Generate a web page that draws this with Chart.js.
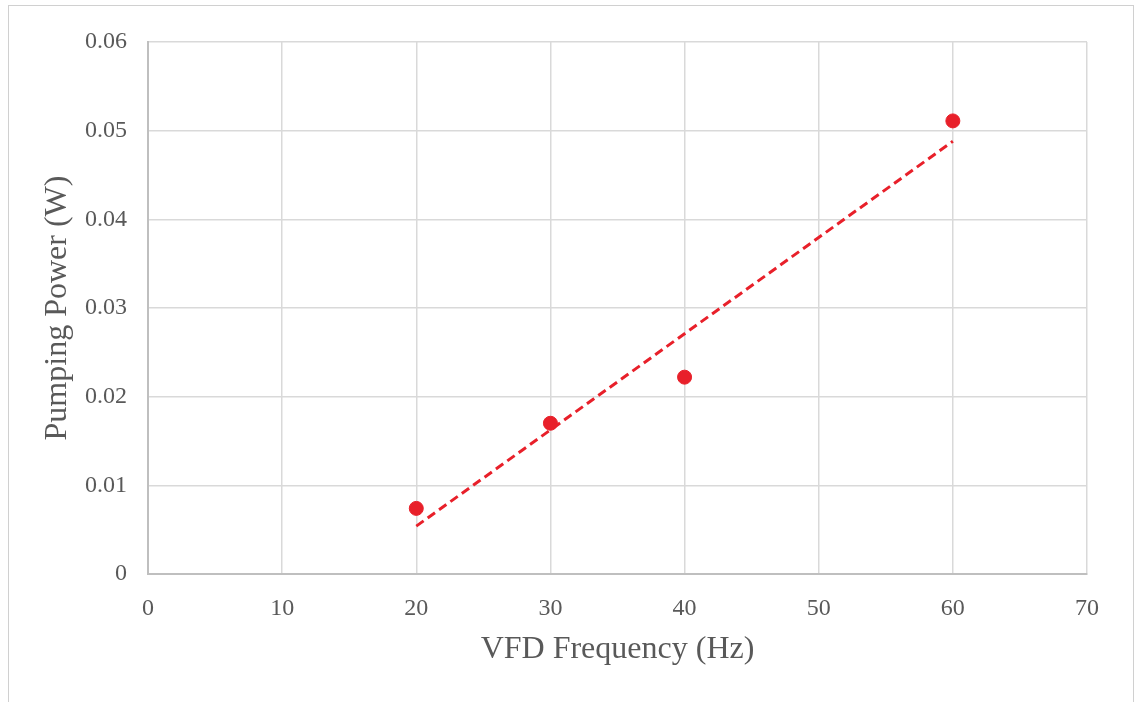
<!DOCTYPE html>
<html>
<head>
<meta charset="utf-8">
<script src="https://cdn.jsdelivr.net/npm/chart.js@4"></script>
<style>
  html, body { margin: 0; padding: 0; background: #fff; overflow: hidden; }
  #frame { position: absolute; left: 8px; top: 5px; width: 1126px; height: 720px; border: 1px solid #d0d0d0; box-sizing: border-box; }
  #wrap { position: absolute; left: 0; top: 0; width: 1138px; height: 702px; }
</style>
</head>
<body>
<div id="frame"></div>
<div id="wrap"><canvas id="chart" width="1138" height="702"></canvas></div>
<script>
// measured points
const frequency = [20, 30, 40, 60];
const pumpingPower = [0.0074, 0.0170, 0.0222, 0.0511];

// linear trendline end points
const trendFreq = [20, 60];
const trendPower = [0.0054, 0.0488];

const xMin = 0, xMax = 70, xStep = 10;
const yMin = 0, yMax = 0.06, yStep = 0.01;

const red = '#E8202A';
const tickFont = { family: 'Liberation Serif', size: 24 };
const titleFont = { family: 'Liberation Serif', size: 32 };

const ctx = document.getElementById('chart').getContext('2d');
new Chart(ctx, {
  type: 'scatter',
  data: {
    datasets: [
      {
        label: 'Pumping Power',
        data: frequency.map((f, i) => ({ x: f, y: pumpingPower[i] })),
        backgroundColor: red,
        borderColor: red,
        pointRadius: 7,
        pointHoverRadius: 7,
        order: 1
      },
      {
        label: 'Linear trend',
        type: 'line',
        data: trendFreq.map((f, i) => ({ x: f, y: trendPower[i] })),
        borderColor: red,
        borderWidth: 3,
        borderDash: [9, 5],
        pointRadius: 0,
        fill: false,
        order: 2
      }
    ]
  },
  options: {
    responsive: false,
    animation: false,
    layout: { padding: { top: 42, right: 51, left: 0, bottom: 0 } },
    plugins: { legend: { display: false }, tooltip: { enabled: false } },
    scales: {
      x: {
        type: 'linear',
        min: xMin, max: xMax,
        ticks: { stepSize: xStep, color: '#595959', font: tickFont, padding: 20, maxRotation: 0 },
        grid: { color: '#d9d9d9', lineWidth: 1.5, drawTicks: false },
        border: { color: '#bfbfbf', width: 2 },
        title: { display: true, text: 'VFD Frequency (Hz)', color: '#595959', font: titleFont, padding: { top: 33, bottom: 33 } },
        afterFit: (scale) => { scale.height = 128; }
      },
      y: {
        min: yMin, max: yMax,
        ticks: {
          stepSize: yStep, color: '#595959', font: tickFont, padding: 21,
          callback: (v) => parseFloat(v.toFixed(2)).toString()
        },
        grid: { color: '#d9d9d9', lineWidth: 1.5, drawTicks: false },
        border: { color: '#bfbfbf', width: 2 },
        title: { display: true, text: 'Pumping Power (W)', color: '#595959', font: titleFont, padding: { top: 38, bottom: 38 } },
        afterFit: (scale) => { scale.width = 148; }
      }
    }
  }
});
</script>
</body>
</html>
